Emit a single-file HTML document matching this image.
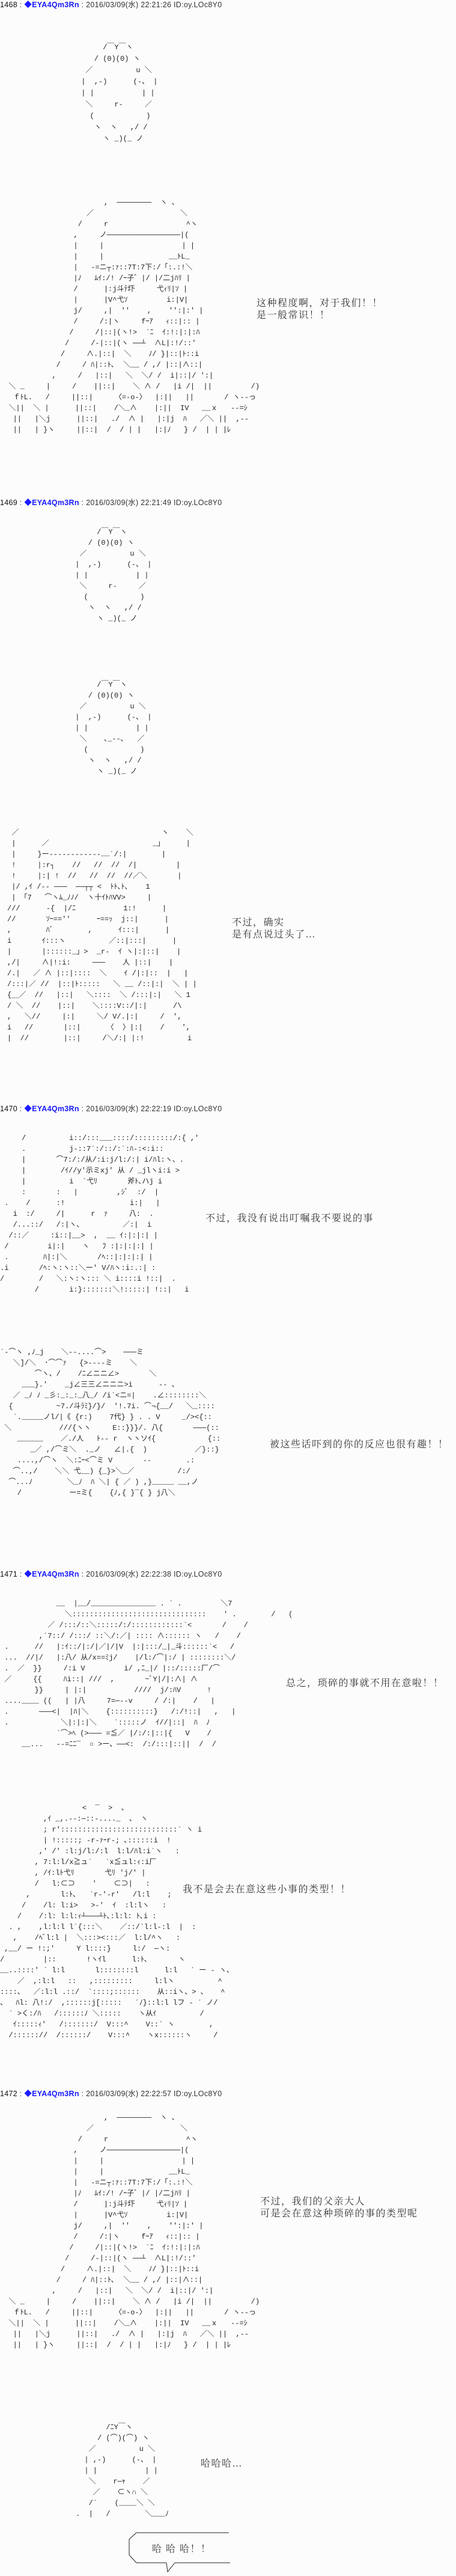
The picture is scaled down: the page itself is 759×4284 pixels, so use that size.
<!DOCTYPE html>
<html><head><meta charset="utf-8">
<style>
html,body{margin:0;padding:0}
body{width:759px;height:4284px;position:relative;background:#fcfcfc;overflow:hidden}
.h{position:absolute;left:0;font:12.5px/16px "Liberation Sans","Noto Sans CJK JP",sans-serif;color:#333;white-space:pre;letter-spacing:0.3px}
.h b{color:#111;font-weight:normal}
.h i{font-style:normal;color:#1a1aff;font-weight:bold}
.a{position:absolute;font:12px/18px "Liberation Mono","Noto Sans CJK JP",monospace;color:#222;white-space:pre;margin:0}
.t{position:absolute;font:16px/20px "Liberation Serif","Noto Serif CJK SC",serif;color:#333;white-space:pre;letter-spacing:1.5px}
</style></head><body>

<div class="h" style="top:0"><b>1468</b> : <i>◆EYA4Qm3Rn</i> : 2016/03/09(水) 22:21:26 ID:oy.LOc8Y0</div>
<pre class="a" style="left:128px;top:70px;line-height:19px">      /￣Y￣ヽ
    / (0)(0) ヽ
  ／          u ＼
 |  ,-)      (-、 |
 | |           | |
  ＼     r-     ／
   (            )
    ヽ  ヽ   ,/ /
      ヽ _)(_ ノ</pre>
<pre class="a" style="left:0;top:328px">                        ,  ────────  ヽ 、
                    ／                    ＼
                  /     r                  ^ヽ
                 ,     ノ─────────────────|(
                 |     |                  | |
                 |     |               __ﾄL_
                 |   -=ニ┬:ｧ::7T:7下:/「:.:!＼
                 |ﾉ   ﾑｲ:/! /ｰ子゛|/ |/二jﾊﾘ |
                 /      |:j斗ﾃ圷     弋ｨﾘ|ｿ |
                 |      |V^弋ｿ         i:|V|
                 j/     ,|  ''    ,    '':|:' |
                 /     /:|ヽ     fｰｱ   ｨ::|:: |
                /     /|::|(ヽ!>  `ﾆ  ｲ:!:|:|:ﾊ
               /     /-|::|(ヽ ──┴  ∧L|:!/::'
              /     ∧.|::|  ＼    ﾉ/ }|::|ﾄ::i
             /     / ﾊ|::ﾄ､  ＼__ / ,/ |::|∧::|
            ,     /   |::|   ＼  ＼/ /  i|::|/ ':|
  ＼ _     |     /    ||::|    ＼ ∧ /   |i /|  ||         /)
   ｆﾄL.   /     ||::|     〈=-o-〉  |:||   ||       / ヽ--っ
  ＼||  ＼ |      ||::|    /＼_∧    |:||  IV   __ｘ   --=ｼ
   ||   |＼j      ||::|   ./  ∧ |   |:|j  ﾊ   ／＼ ||  ,--
   ||   | }ヽ     ||::|  /  / | |   |:|ﾉ   } /  | | |ﾚ</pre>
<div class="t" style="left:427px;top:495px">这种程度啊，对于我们！！
是一般常识！！</div>

<div class="h" style="top:828px"><b>1469</b> : <i>◆EYA4Qm3Rn</i> : 2016/03/09(水) 22:21:49 ID:oy.LOc8Y0</div>
<pre class="a" style="left:118px;top:876px">      /￣Y￣ヽ
    / (0)(0) ヽ
  ／          u ＼
 |  ,-)      (-、 |
 | |           | |
  ＼     r-     ／
   (            )
    ヽ  ヽ   ,/ /
      ヽ _)(_ ノ</pre>
<pre class="a" style="left:118px;top:1130px">      /￣Y￣ヽ
    / (0)(0) ヽ
  ／          u ＼
 |  ,-)      (-、 |
 | |           | |
  ＼    ､_--､   ／
   (            )
    ヽ  ヽ   ,/ /
      ヽ _)(_ ノ</pre>
<pre class="a" style="left:12px;top:1376px"> ／                                 ヽ    ＼
 |      ／                        _」     |
 |     }ー‐‐‐‐‐‐‐‐‐‐‐‐……´/:|        |
 !     |:r┐    //   //  //  /|         |
 !     |:| !  //   //  //  //／＼       |
 |/ ,ｲ /‐‐ ───  ──┬┬ <  ﾄﾄ､ﾄ､    1
 | 「7   ⌒ヽﾑ_ﾉﾉ/  ヽ十ｲﾄﾊVV>     |
///      -{  |/ﾆ           1:!      |
//       ｿｰ==''      ｰ==ｯ  j::|      |
,        ﾊﾞ        ,      ｲ:::|      |
i       ｲ:::ヽ          ／::|:::|      |
|       |::::::_」>  _r-  ｲ ヽ|:|::|    |
,/|     ∧|!:i:     ───    人 |::|    |
/.|   ／ ∧ |::|::::  ＼    ｲ /|:|::  |   |
/:::|／ //  |::|ﾄ:::::   ＼ __ /::|:|  ＼ | |
{＿／  //   |::|   ＼::::  ＼ /:::|:|   ＼ 1
/ ＼  //    |::|    ＼::::V::/|:|      /\
,   ＼//     |:|     ＼/ V/.|:|     /  ',
i   //       |::|      〈  〉|:|    /    ',
|  //        |::|     /＼/:| |:!          i</pre>
<div class="t" style="left:386px;top:1525px">不过，确实
是有点说过头了…</div>

<div class="h" style="top:1836px"><b>1470</b> : <i>◆EYA4Qm3Rn</i> : 2016/03/09(水) 22:22:19 ID:oy.LOc8Y0</div>
<pre class="a" style="left:0;top:1884px">     /          i::/:::___::::/:::::::::/:{ ,'
     .          j-::7´:/::/:´:ﾊ-:<:i::
     |       ⌒7:/:/从/:i:j/l:/:| i/ﾊl:ヽ、.
     |        /ｲ//y'示ミxj' 从 / _jlヽi:i >
     |          i  ´弋ﾘ       斧ﾄ､ハj i
     :       :   |         ,ｼﾞ  :/  |
 .    /      :!               i:|   |
   i  :/     /|      r  ｧ     八:  .
   /...::/   /:|ヽ、         ／:|  i
  /::／     :i::|__>  ,  __ ｲ:|:|:| |
 /         i|:|    ヽ   ﾌ :|:|:|:| |
 .        ﾊ|:|＼       /ﾍ::|:|:|:| |
.i       /ﾍ:ヽ:ヽ::＼ー' V/ﾊヽ:i:.:| :
/        /   ＼:ヽ:ヽ::: ＼ i::::i !::|  .
        /       i:}:::::::＼!:::::| !::|   i</pre>
<div class="t" style="left:342px;top:2017px">不过，我没有说出叮嘱我不要说的事</div>
<pre class="a" style="left:0;top:2240px">`-⌒ヽ ,ﾉ_j    ＼--....⌒>    ───ミ
   ＼]/＼  ･⌒⌒ｧ   {>‐‐‐‐ミ    ＼
        ⌒ヽ、/    /ﾆ∠ニニ∠>       ＼
     ___}.'    _j∠三三∠ニニニ>i      -- 、
   ／ _ﾉ ﾉ _彡:_:_:_八_/ /i`<ニ=|    .∠::::::::＼
  {          ~7./斗ﾗﾐ}/}/  '!.7i. ⌒¬{__/   ＼_::::
   `._____ノl/|《 {r:)    7代} } . . V     _/><{::
 ＼           ///{ヽヽ     E::}}}/. 八{       ───(::
    ______    ／./人   ﾄ-- r  ヽヽソｲ{            {::
       _／ ,/⌒ミ＼  ._ノ   ∠|.{  )           ／}::}
    ....,/⌒ヽ  ＼:ﾆｰ<⌒ミ V       --        .:
   ⌒..,/    ＼＼ 弋__) {_}>＼_／          /:/
  ⌒...ﾉ        ＼_ﾉ  ﾊ ＼| { ／ ) ,}_____ __,ノ
    /           ー=ミ{    {ﾉ,{ }‾{ } j八＼</pre>
<div class="t" style="left:449px;top:2393px">被这些话吓到的你的反应也很有趣！！</div>

<div class="h" style="top:2610px"><b>1471</b> : <i>◆EYA4Qm3Rn</i> : 2016/03/09(水) 22:22:38 ID:oy.LOc8Y0</div>
<pre class="a" style="left:0;top:2658px">             __  |__/_______________ . ` .         ＼7
               ＼:::::::::::::::::::::::::::::::    ' .        /   (
           ／ /:::/::＼:::::/:/::::::::::::`<       /    /
         ,´7::/ /:::/ ::＼/:／| :::: ∧:::::: ヽ   /    /
 .      //   |:ｲ::/|:/|／|/|V  |:|:::/_|_斗::::::`<   /
 ...  //|/   |:八/ 从/x==ﾐj/    |/l:/⌒|:/ | ::::::::＼/
 .  ／  }}     /:i V         i/ ,ﾆ_|/ |::/:::::厂/⌒
 ／     {{     ﾊi::| ///  ,       ~ﾞY|/|:∧| ∧
        }}     | |:|           ////  j/:ﾊV      !
 ....____ ((   | |八     7=─--v     / /:|    /   |
 .       ───<|  |ﾊ|＼    {::::::::::}   /:/!::|   ,   |
 .            ＼|:|:|＼    `:::::ノ  ｲ//|::|  ﾊ  ﾉ
             `⌒>ﾍ (>─── =≦／ |/:/:|::|{   V    /
     __...   --=ﾆﾆ‾  ○ >ー、──<:  /:/:::|::||  /  /</pre>
<div class="t" style="left:476px;top:2790px">总之，琐碎的事就不用在意啦！！</div>
<pre class="a" style="left:0;top:2998px">                   <  ‾  >  、
          ,ｲ _,.-‐:─::-...._  、 ヽ
          ; r':::::::::::::::::::::::::::` ヽ i
          | !:::::; -r-ｧｰr-; ､::::::i  !
         ,' /' :l:j/l:/:l  l:l/ﾊl:i`ヽ   :
        , 7:l:l/x≧ュ`   `x≦ュl:ｨ:i厂
        , /ｲ:lﾄ弋ﾘ       弋ﾘ 'j/' |
        /   l:⊂⊃    '    ⊂⊃|   :
      ,       l:ﾄ､   `r-'-r'   /l:l    ;
     /    /l: l:i>   >-'  ｲ  :l:lヽ   :
    /    /:l: l:l:ｨ┴───┴ﾄ､:l:l: ﾄ､i :
  . ,    ,l:l:l l´{:::＼    ／::/`l:l-:l  |  :
   ,    /ﾍﾞl:l |  ＼:::><:::／  l:l/^ヽ   :
 ,__/ ー !:;'     Y l::::}     l:/  ─ヽ:
/         |::       !ヽｲl      l:ﾄ､       ヽ
__..::::' ` l:l       l::::::::l      l:l   ` ー - ヽ、
    ／  ,:l:l   ::   ,:::::::::     l:lヽ          ^
::::、  ／:l:l .::/  `::::;::::::    从::iヽ、> 、   ^
、  ﾊl: 八!:/  ,::::::j[:::::   ´ﾉ}::l:l lフ - ´ ノ/
  ` >く:/ﾊ   /::::::ﾉ ＼:::::    ヽ从ｲ          /
   ｲ:::::ｨ'   /:::::::/  V:::^    V::` ヽ        ,
  /:::::://  /::::::/    V:::^    ヽx::::::ヽ     /</pre>
<div class="t" style="left:304px;top:3133px">我不是会去在意这些小事的类型！！</div>

<div class="h" style="top:3474px"><b>1472</b> : <i>◆EYA4Qm3Rn</i> : 2016/03/09(水) 22:22:57 ID:oy.LOc8Y0</div>
<pre class="a" style="left:0;top:3513px">                        ,  ────────  ヽ 、
                    ／                    ＼
                  /     r                  ^ヽ
                 ,     ノ─────────────────|(
                 |     |                  | |
                 |     |               __ﾄL_
                 |   -=ニ┬:ｧ::7T:7下:/「:.:!＼
                 |ﾉ   ﾑｲ:/! /ｰ子゛|/ |/二jﾊﾘ |
                 /      |:j斗ﾃ圷     弋ｨﾘ|ｿ |
                 |      |V^弋ｿ         i:|V|
                 j/     ,|  ''    ,    '':|:' |
                 /     /:|ヽ     fｰｱ   ｨ::|:: |
                /     /|::|(ヽ!>  `ﾆ  ｲ:!:|:|:ﾊ
               /     /-|::|(ヽ ──┴  ∧L|:!/::'
              /     ∧.|::|  ＼    ﾉ/ }|::|ﾄ::i
             /     / ﾊ|::ﾄ､  ＼__ / ,/ |::|∧::|
            ,     /   |::|   ＼  ＼/ /  i|::|/ ':|
  ＼ _     |     /    ||::|    ＼ ∧ /   |i /|  ||         /)
   ｆﾄL.   /     ||::|     〈=-o-〉  |:||   ||       / ヽ--っ
  ＼||  ＼ |      ||::|    /＼_∧    |:||  IV   __ｘ   --=ｼ
   ||   |＼j      ||::|   ./  ∧ |   |:|j  ﾊ   ／＼ ||  ,--
   ||   | }ヽ     ||::|  /  / | |   |:|ﾉ   } /  | | |ﾚ</pre>
<div class="t" style="left:433px;top:3652px">不过，我们的父亲大人
可是会在意这种琐碎的事的类型呢</div>

<pre class="a" style="left:126px;top:4028px">       /ﾆY￣ヽ
     / (⌒)(⌒) ヽ
   ／          u ＼
  | ,-)      (-、 |
  | |           | |
   ＼    r─ｬ    ／
    ／    ⊂ヽ∩ ＼
   /´    (____＼ ＼
.  |   /        ＼___ﾉ</pre>
<div class="t" style="left:334px;top:4088px">哈哈哈…</div>

<svg style="position:absolute;left:205px;top:4205px" width="180" height="75">
<path d="M22 7 L176 7 M22 7 L10 18 L10 44 L22 57 L72 57 M86 57 L178 57 M72 57 L74 72 L86 57" fill="none" stroke="#222" stroke-width="1"/>
</svg>
<div class="t" style="left:253px;top:4230px">哈 哈 哈！！</div>

</body></html>
